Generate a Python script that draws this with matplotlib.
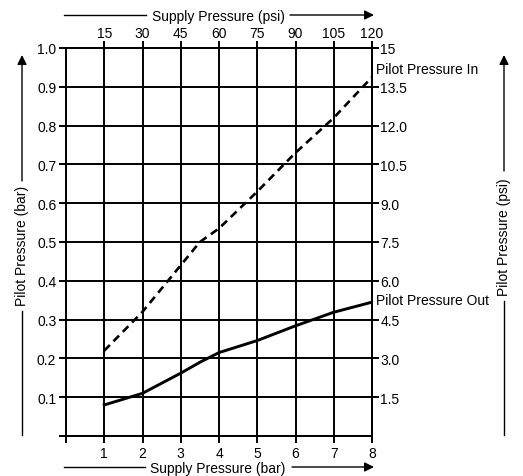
import matplotlib
matplotlib.use("Agg")
import matplotlib.pyplot as plt
from matplotlib.ticker import FixedLocator, FixedFormatter

plt.rcParams['font.family'] = ['Liberation Sans', 'DejaVu Sans']

# data
supply_bar = [1, 2, 3, 3.5, 4, 5, 6, 7, 8]
pilot_in = [0.22, 0.32, 0.44, 0.50, 0.535, 0.63, 0.73, 0.82, 0.925]
pilot_out = [0.08, 0.11, 0.162, 0.19, 0.215, 0.246, 0.284, 0.319, 0.345]

bar_ticks = [0, 1, 2, 3, 4, 5, 6, 7, 8]
bar_labels = ['', '1', '2', '3', '4', '5', '6', '7', '8']
psi_ticks = [15, 30, 45, 60, 75, 90, 105, 120]
psi_labels = ['15', '30', '45', '60', '75', '90', '105', '120']
pbar_ticks = [0, 0.1, 0.2, 0.3, 0.4, 0.5, 0.6, 0.7, 0.8, 0.9, 1.0]
pbar_labels = ['', '0.1', '0.2', '0.3', '0.4', '0.5', '0.6', '0.7', '0.8', '0.9', '1.0']
ppsi_ticks = [1.5, 3.0, 4.5, 6.0, 7.5, 9.0, 10.5, 12.0, 13.5, 15]
ppsi_labels = ['1.5', '3.0', '4.5', '6.0', '7.5', '9.0', '10.5', '12.0', '13.5', '15']

W, H = 523, 477
fig = plt.figure(figsize=(W / 100, H / 100), dpi=100)
ax = fig.add_axes([66 / W, 1 - 437 / H, (372 - 66) / W, (437 - 49) / H])

lw = 1.4
fs = 10

ax.plot(supply_bar, pilot_in, color='black', lw=1.9, ls=(0, (3, 2)))
ax.plot(supply_bar, pilot_out, color='black', lw=2.1)

ax.set_xlim(0, 8)
ax.set_ylim(0, 1.0)
ax.set_xticks(bar_ticks)
ax.set_xticklabels(bar_labels)
ax.set_yticks(pbar_ticks)
ax.set_yticklabels(pbar_labels)
ax.grid(True, color='black', lw=lw)
for s in ax.spines.values():
    s.set_linewidth(lw)
ax.tick_params(direction='out', length=5, width=lw, labelsize=fs, pad=2)

top = ax.secondary_xaxis('top', functions=(lambda b: b * 15, lambda p: p / 15))
top.xaxis.set_major_locator(FixedLocator(psi_ticks))
top.xaxis.set_major_formatter(FixedFormatter(psi_labels))
top.tick_params(direction='out', length=5, width=lw, labelsize=fs, pad=1)
top.spines['top'].set_linewidth(lw)

right = ax.secondary_yaxis('right', functions=(lambda b: b * 15, lambda p: p / 15))
right.yaxis.set_major_locator(FixedLocator(ppsi_ticks))
right.yaxis.set_major_formatter(FixedFormatter(ppsi_labels))
right.tick_params(direction='out', length=5, width=lw, labelsize=fs, pad=1)
right.spines['right'].set_linewidth(lw)

# curve labels
ax.text(8.1, 0.945, 'Pilot Pressure In', fontsize=fs, va='center', ha='left', clip_on=False)
ax.text(8.1, 0.35, 'Pilot Pressure Out', fontsize=fs, va='center', ha='left', clip_on=False)


def px(x, y):
    return x / W, 1 - y / H


def arrow_axis(p0, p1, gap0, gap1, text, rot, tx, ty):
    # line with a gap for the label, arrow at the end
    fig.add_artist(plt.Line2D([px(*p0)[0], px(*gap0)[0]], [px(*p0)[1], px(*gap0)[1]],
                              color='black', lw=1.0, transform=fig.transFigure))
    fig.add_artist(matplotlib.patches.FancyArrowPatch(
        px(*gap1), px(*p1), transform=fig.transFigure, arrowstyle='-|>',
        mutation_scale=14, color='black', lw=1.0, shrinkA=0, shrinkB=0))
    fig.text(*px(tx, ty), text, fontsize=fs, rotation=rot, ha='center', va='center')


arrow_axis((64, 16), (374, 16), (146, 16), (290, 16), 'Supply Pressure (psi)', 0, 218, 17)
arrow_axis((64, 468), (374, 468), (145, 468), (292, 468), 'Supply Pressure (bar)', 0, 218, 469)
arrow_axis((22, 436), (22, 56), (22, 312), (22, 182), 'Pilot Pressure (bar)', 90, 22, 246)
arrow_axis((504, 436), (504, 56), (504, 302), (504, 172), 'Pilot Pressure (psi)', 90, 504, 237)

fig.savefig('out.png', dpi=100)
